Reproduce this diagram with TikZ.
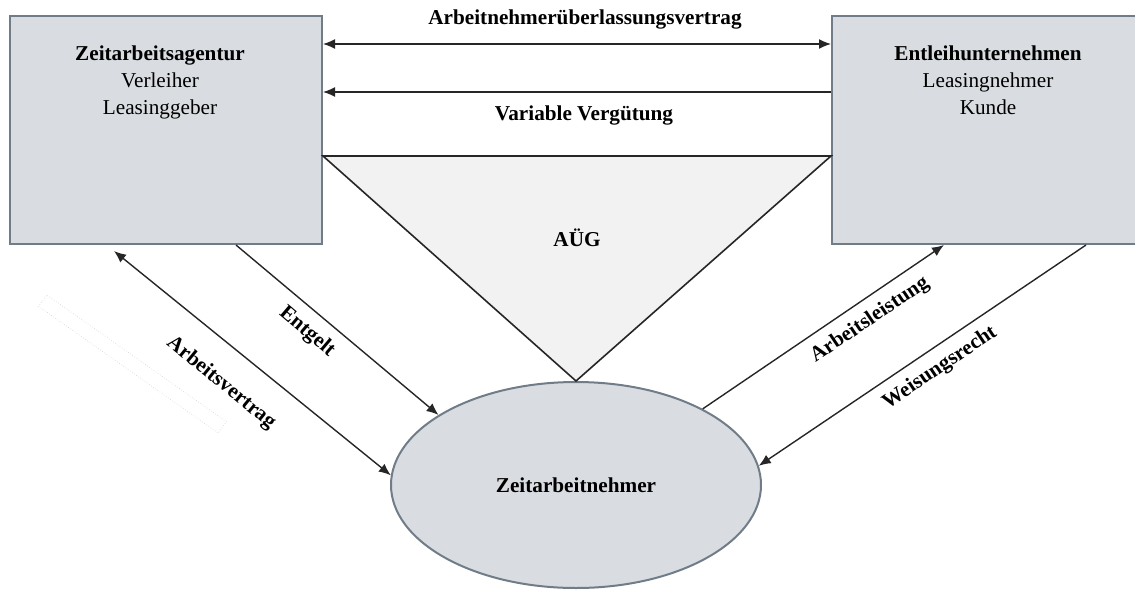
\documentclass[tikz,border=0pt]{standalone}
\usepackage{fontspec}
\setmainfont{Liberation Serif}
\usetikzlibrary{arrows.meta, positioning, shapes.geometric, calc}

\definecolor{boxfill}{RGB}{217,221,225}
\definecolor{boxline}{RGB}{112,124,136}
\definecolor{trifill}{RGB}{242,242,242}
\definecolor{arrowline}{RGB}{38,38,38}

\tikzset{
  party/.style={rectangle, draw=boxline, fill=boxfill, line width=1pt, minimum width=156pt, minimum height=114pt, inner sep=0pt},
  partytext/.style={align=center, inner sep=0pt, anchor=north},
  flow/.style={draw=arrowline, line width=0.7pt},
  lbl/.style={font=\fontsize{10.6}{13.5}\selectfont\bfseries, inner sep=0pt}
}

\begin{document}
\begin{tikzpicture}[x=0.5pt, y=-0.5pt, >={Latex[length=6pt,width=5pt]}, font=\fontsize{10.6}{13.5}\selectfont]

            \useasboundingbox (0,0) rectangle (1135,589);

            % Parties
            \node[party] (agentur) at (166,130) {};
            \node[party] (entleiher) at (988,130) {};
            \node[partytext, below=15pt of agentur.north, xshift=-3pt] (agenturText) {\textbf{Zeitarbeitsagentur}\\Verleiher\\Leasinggeber};
            \node[partytext, below=15pt of entleiher.north] (entleiherText) {\textbf{Entleihunternehmen}\\Leasingnehmer\\Kunde};

            % Employee
            \node[ellipse, draw=boxline, fill=boxfill, line width=1pt, minimum width=185pt, minimum height=103pt, inner sep=0pt] (arbeitnehmer) at (576,485) {\textbf{Zeitarbeitnehmer}};

            % AUeG triangle
            \draw[draw=arrowline, line width=0.8pt, fill=trifill] ([yshift=-70.5pt]agentur.north east) -- ([yshift=-70.5pt]entleiher.north west) -- (arbeitnehmer.north) -- cycle;
            \node[lbl] (aueg) at (577,238) {AÜG};

            % empty frame
            \node[rectangle, draw=black!18, densely dotted, line width=0.3pt, minimum width=110pt, minimum height=7pt, rotate=-35.2] (frame) at (132.5,364) {};

            % Arrows between the companies
            \draw[flow, <->] ([yshift=-14.5pt]agentur.north east) -- ([yshift=-14.5pt]entleiher.north west);
            \draw[flow, ->] ([yshift=-38.5pt]entleiher.north west) -- ([yshift=-38.5pt]agentur.north east);
            \node[lbl] (uevertrag) at (585,19) {Arbeitnehmerüberlassungsvertrag};
            \node[lbl] (verguetung) at (584,115) {Variable Vergütung};

            % Arrows to the employee
            \draw[flow, <->] ([xshift=52.5pt, yshift=-3pt]agentur.south west) -- (arbeitnehmer.177.5);
            \draw[flow, ->] ([xshift=113.5pt]agentur.south west) -- (arbeitnehmer.153);
            \draw[flow, ->] (arbeitnehmer.31) -- ([xshift=56.5pt]entleiher.south west);
            \draw[flow, ->] ([xshift=127.5pt]entleiher.south west) -- (arbeitnehmer.6.2);

            % Labels
            \node[lbl, rotate=-39.3] (arbeitsvertrag) at (221,383) {Arbeitsvertrag};
            \node[lbl, rotate=-40.4] (entgelt) at (307,332) {Entgelt};
            \node[lbl, rotate=34] (arbeitsleistung) at (870,320) {Arbeitsleistung};
            \node[lbl, rotate=34] (weisungsrecht) at (940,368) {Weisungsrecht};

        \end{tikzpicture}
\end{document}
